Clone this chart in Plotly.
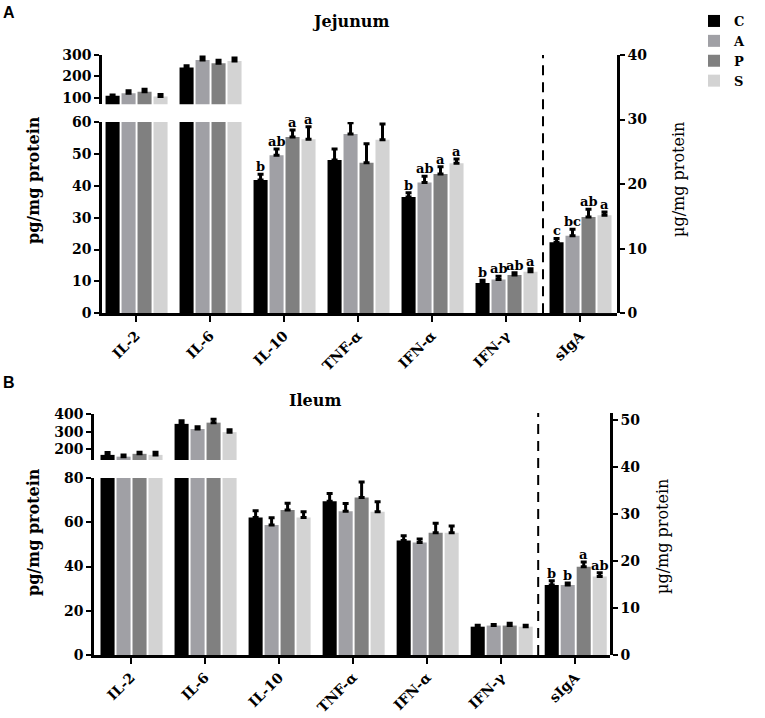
import plotly.graph_objects as go

# ---------------- data ----------------
cytokines = ["IL-2", "IL-6", "IL-10", "TNF-α", "IFN-α", "IFN-γ"]
siga_cat = ["sIgA"]
all_cats = cytokines + siga_cat
groups = ["C", "A", "P", "S"]
colors = ["#000000", "#a0a0a5", "#808080", "#d3d3d3"]

# Jejunum (pg/mg protein)
jej_C = [109, 242, 41.8, 48.1, 36.5, 9.5]
jej_A = [121, 276, 49.6, 56.2, 41.0, 10.6]
jej_P = [128, 261, 55.3, 47.2, 43.7, 12.0]
jej_S = [105, 272, 54.6, 54.4, 47.1, 13.0]
jej_C_err = [4, 8, 1.8, 3.4, 1.3, 0.9]
jej_A_err = [12, 15, 1.9, 3.6, 2.0, 1.0]
jej_P_err = [12, 14, 2.2, 6.0, 2.3, 0.7]
jej_S_err = [10, 14, 3.9, 5.0, 1.3, 1.0]
# Jejunum sIgA (µg/mg protein)
jej_siga = [11.0, 12.0, 14.9, 15.2]
jej_siga_err = [0.6, 1.0, 1.2, 0.5]

# Ileum (pg/mg protein)
ile_C = [168, 344, 62.2, 69.5, 51.7, 12.8]
ile_A = [158, 315, 58.8, 65.0, 50.8, 13.3]
ile_P = [174, 351, 65.5, 71.2, 55.3, 13.3]
ile_S = [168, 297, 62.2, 64.7, 55.3, 12.8]
ile_C_err = [13, 18, 3.0, 3.5, 2.2, 0.6]
ile_A_err = [10, 13, 3.2, 3.5, 1.6, 0.5]
ile_P_err = [9, 19, 3.1, 7.0, 4.2, 1.0]
ile_S_err = [15, 13, 2.6, 4.6, 3.0, 0.6]
# Ileum sIgA (µg/mg protein)
ile_siga = [14.9, 14.9, 18.8, 16.7]
ile_siga_err = [0.9, 0.4, 1.0, 0.8]

# significance letters (per group C, A, P, S)
jej_letters = {
    "IL-10": ["b", "ab", "a", "a"],
    "IFN-α": ["b", "ab", "a", "a"],
    "IFN-γ": ["b", "ab", "ab", "a"],
}
jej_siga_letters = ["c", "bc", "ab", "a"]
ile_letters = {}
ile_siga_letters = ["b", "b", "a", "ab"]

# axis settings
jej_low_range = [0, 60]
jej_up_range = [69, 300]
jej_up_ticks = [100, 200, 300]
jej_right_range = [0, 40]
ile_low_range = [0, 80]
ile_up_range = [139, 400]
ile_up_ticks = [200, 300, 400]
ile_right_range = [0, 51.5]

# ---------------- layout helpers ----------------
W, H = 765, 718
SERIF = "DejaVu Serif"
BAR_W = 0.19
PITCH = 0.216
OFF0 = -0.412
offsets = [OFF0 + i * PITCH for i in range(4)]


def py(px):
    return 1 - px / H


def pxx(px):
    return px / W


fig = go.Figure()

panels = [
    dict(name="jej", vals=[jej_C, jej_A, jej_P, jej_S],
         errs=[jej_C_err, jej_A_err, jej_P_err, jej_S_err],
         siga=jej_siga, siga_err=jej_siga_err,
         letters=jej_letters, siga_letters=jej_siga_letters,
         low=jej_low_range, up=jej_up_range, ax=["", "2", "3"]),
    dict(name="ile", vals=[ile_C, ile_A, ile_P, ile_S],
         errs=[ile_C_err, ile_A_err, ile_P_err, ile_S_err],
         siga=ile_siga, siga_err=ile_siga_err,
         letters=ile_letters, siga_letters=ile_siga_letters,
         low=ile_low_range, up=ile_up_range, ax=["4", "5", "6"]),
]

err_style = dict(type="data", symmetric=False, color="black", thickness=3, width=3)
letter_font = dict(family=SERIF, size=13, color="black", weight="bold")

annotations = []
for p_i, p in enumerate(panels):
    a_low, a_up, a_r = p["ax"]
    for g_i, g in enumerate(groups):
        vals = p["vals"][g_i]
        errs = p["errs"][g_i]
        common = dict(marker=dict(color=colors[g_i], line=dict(width=0)),
                      width=BAR_W, offset=offsets[g_i], name=g,
                      legendgroup=g, hoverinfo="skip")
        sel_lo = [i for i, v in enumerate(vals) if v <= p["low"][1]]
        sel_hi = [i for i, v in enumerate(vals) if v > p["low"][1]]
        # lower segment: values that fit below the axis break
        fig.add_trace(go.Bar(x=[cytokines[i] for i in sel_lo], y=[vals[i] for i in sel_lo],
                             error_y=dict(array=[errs[i] for i in sel_lo],
                                          arrayminus=[0] * len(sel_lo), **err_style),
                             xaxis="x" + a_low, yaxis="y" + a_low,
                             showlegend=(p_i == 0), **common))
        # values above the break: bar in lower segment (clipped at the break)
        fig.add_trace(go.Bar(x=[cytokines[i] for i in sel_hi], y=[vals[i] for i in sel_hi],
                             xaxis="x" + a_low, yaxis="y" + a_low,
                             showlegend=False, **common))
        # upper segment (values above the break)
        fig.add_trace(go.Bar(x=[cytokines[i] for i in sel_hi], y=[vals[i] for i in sel_hi],
                             error_y=dict(array=[errs[i] for i in sel_hi],
                                          arrayminus=[0] * len(sel_hi), **err_style),
                             xaxis="x" + a_up, yaxis="y" + a_up,
                             showlegend=False, **common))
        # sIgA on right axis
        fig.add_trace(go.Bar(x=siga_cat, y=[p["siga"][g_i]],
                             error_y=dict(array=[p["siga_err"][g_i]], arrayminus=[0], **err_style),
                             xaxis="x" + a_r, yaxis="y" + a_r,
                             showlegend=False, **common))
        # letters
        for cat, labs in p["letters"].items():
            ci = cytokines.index(cat)
            annotations.append(dict(
                x=ci + offsets[g_i] + BAR_W / 2, y=vals[ci] + errs[ci],
                xref="x" + a_low, yref="y" + a_low, text=labs[g_i],
                showarrow=False, yanchor="bottom", yshift=-2, font=letter_font))
        ci = all_cats.index("sIgA")
        annotations.append(dict(
            x=ci + offsets[g_i] + BAR_W / 2, y=p["siga"][g_i] + p["siga_err"][g_i],
            xref="x" + a_r, yref="y" + a_r, text=p["siga_letters"][g_i],
            showarrow=False, yanchor="bottom", yshift=-2, font=letter_font))

tickfont = dict(family=SERIF, size=14, color="black", weight="bold")
axis_line = dict(showline=True, linecolor="black", linewidth=2.5, ticks="outside",
                 tickcolor="black", tickwidth=2, ticklen=5, showgrid=False,
                 zeroline=False, tickfont=tickfont, automargin=False)
hidden_x = dict(showline=False, showticklabels=False, ticks="", showgrid=False,
                zeroline=False, type="category", categoryorder="array",
                categoryarray=all_cats, fixedrange=True, automargin=False)

xA = [pxx(102), pxx(617)]
xB = [pxx(94), pxx(610)]
xrangeA = [-0.46, 6.5]
xrangeB = [-0.5, 6.47]

xbase = dict(type="category", categoryorder="array", categoryarray=all_cats,
             tickangle=-45, **{**axis_line, "ticklen": 6})

fig.update_layout(
    xaxis=dict(domain=xA, anchor="y", range=xrangeA, **xbase),
    xaxis2=dict(domain=xA, anchor="y2", range=xrangeA, **hidden_x),
    xaxis3=dict(domain=xA, anchor="y3", range=xrangeA, **hidden_x),
    yaxis=dict(domain=[py(313.3), py(122)], anchor="x", range=jej_low_range, dtick=10, **axis_line),
    yaxis2=dict(domain=[py(104.3), py(55)], anchor="x2", range=jej_up_range,
                tickvals=jej_up_ticks, **axis_line),
    yaxis3=dict(domain=[py(313.3), py(55)], anchor="x3", side="right",
                range=jej_right_range, dtick=10, **axis_line),
    xaxis4=dict(domain=xB, anchor="y4", range=xrangeB, **xbase),
    xaxis5=dict(domain=xB, anchor="y5", range=xrangeB, **hidden_x),
    xaxis6=dict(domain=xB, anchor="y6", range=xrangeB, **hidden_x),
    yaxis4=dict(domain=[py(655), py(478)], anchor="x4", range=ile_low_range, dtick=20, **axis_line),
    yaxis5=dict(domain=[py(460), py(414)], anchor="x5", range=ile_up_range,
                tickvals=ile_up_ticks, **axis_line),
    yaxis6=dict(domain=[py(655), py(413)], anchor="x6", side="right",
                range=ile_right_range, tickvals=[0, 10, 20, 30, 40, 50], **axis_line),
)

# dashed separators between cytokines and sIgA
sep = len(all_cats) - 1.5
for xr, yr in [("x3", "y3 domain"), ("x6", "y6 domain")]:
    fig.add_shape(type="line", xref=xr, yref=yr, x0=sep, x1=sep, y0=0, y1=1,
                  line=dict(color="black", width=2, dash="10px,7px"))


def txt(text, x, y, size, bold=True, angle=0, family=SERIF):
    f = dict(family=family, size=size, color="black")
    if bold:
        f["weight"] = "bold"
    return dict(text=text, x=x, y=y, xref="paper", yref="paper", showarrow=False,
                textangle=angle, font=f, xanchor="center", yanchor="middle")


annotations += [
    txt("A", pxx(9), py(13), 16, family="Liberation Sans"),
    txt("B", pxx(9), py(382), 16, family="Liberation Sans"),
    txt("Jejunum", pxx(350), py(22), 16),
    txt("Ileum", pxx(315), py(400), 16),
    txt("pg/mg protein", pxx(33), py(180), 16, angle=-90),
    txt("µg/mg protein", pxx(678), py(180), 16, bold=False, angle=-90),
    txt("pg/mg protein", pxx(33), py(532), 16, angle=-90),
    txt("µg/mg protein", pxx(662), py(537), 16, bold=False, angle=-90),
]

fig.update_layout(
    width=W, height=H, margin=dict(l=0, r=0, t=0, b=0, autoexpand=False),
    paper_bgcolor="white", plot_bgcolor="rgba(0,0,0,0)",
    barmode="overlay", hovermode=False,
    annotations=annotations,
    legend=dict(x=pxx(694), y=py(6), xanchor="left", yanchor="top",
                font=dict(family=SERIF, size=13, color="black", weight="bold"),
                bgcolor="rgba(0,0,0,0)", tracegroupgap=0, itemclick=False),
    font=dict(family=SERIF, color="black"),
)

fig.write_html("out.html", config={"displayModeBar": False},
               post_script="document.body.style.margin='0px';document.body.style.padding='0px';")
